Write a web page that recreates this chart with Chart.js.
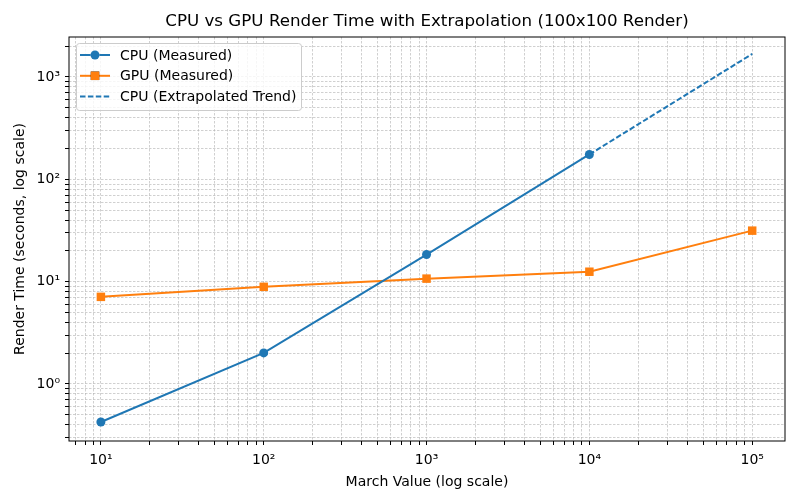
<!DOCTYPE html>
<html>
<head>
<meta charset="utf-8">
<script src="https://cdn.jsdelivr.net/npm/chart.js@4.4.0/dist/chart.umd.min.js"></script>
<style>
  body { margin: 0; background: #fff; }
</style>
</head>
<body>
<canvas id="graficoRender" width="800" height="500"></canvas>
<script>
// dados
var marchCpu = [10, 100, 1000, 10000];
var cpuMedido = [0.425, 2.01, 18.4, 175];
var marchGpu = [10, 100, 1000, 10000, 100000];
var gpuMedido = [7.1, 8.9, 10.7, 12.5, 31.5];
var marchTrend = [10000, 100000];
var cpuTrend = [175, 1680];
var expoentes = ['⁰', '¹', '²', '³', '⁴', '⁵'];
var titulo = 'CPU vs GPU Render Time with Extrapolation (100x100 Render)';

var azul = '#1f77b4';
var laranja = '#ff7f0e';

function pares(xs, ys) {
    var out = [];
    for (var i = 0; i < xs.length; i++) out.push({ x: xs[i], y: ys[i] });
    return out;
}

// ticks 1..9 x 10^n, igual ao matplotlib
function ticksLog(scale) {
    var lista = [];
    var eMin = Math.floor(Math.log10(scale.min));
    var eMax = Math.ceil(Math.log10(scale.max));
    for (var e = eMin; e <= eMax; e++) {
        for (var k = 1; k <= 9; k++) {
            var v = k * Math.pow(10, e);
            if (v >= scale.min && v <= scale.max) lista.push({ value: v, major: k == 1 });
        }
    }
    scale.ticks = lista;
}

function rotuloLog(value) {
    var e = Math.log10(value);
    if (Math.abs(e - Math.round(e)) < 1e-9) return '10' + expoentes[Math.round(e)];
    return '';
}

var grade = {
    color: 'rgba(176,176,176,0.85)',
    lineWidth: 0.7,
    tickColor: '#000',
    tickWidth: 1,
    tickLength: 4,
    tickBorderDash: []
};
// no v4 o tracejado da grade fica em border.dash
var borda = { display: false, dash: [2.5, 1.5] };

// moldura em volta da area do grafico + titulo centrado nela
var moldura = {
    id: 'moldura',
    afterDraw: function (chart) {
        var a = chart.chartArea, ctx = chart.ctx;
        ctx.save();
        ctx.strokeStyle = '#000';
        ctx.lineWidth = 1;
        ctx.strokeRect(a.left, a.top, a.right - a.left, a.bottom - a.top);
        ctx.fillStyle = '#000';
        ctx.font = '16.7px "DejaVu Sans"';
        ctx.textAlign = 'center';
        ctx.textBaseline = 'middle';
        ctx.fillText(titulo, (a.left + a.right) / 2, 22);
        ctx.restore();
    }
};

// legenda dentro do grafico (canto superior esquerdo)
var legendaInterna = {
    id: 'legendaInterna',
    afterDraw: function (chart) {
        var a = chart.chartArea, ctx = chart.ctx;
        var x0 = a.left + 7, y0 = a.top + 6;
        var w = 225, h = 67;
        ctx.save();
        ctx.fillStyle = 'rgba(255,255,255,0.8)';
        ctx.strokeStyle = '#cccccc';
        ctx.lineWidth = 1;
        ctx.beginPath();
        ctx.roundRect(x0 + 0.5, y0 + 0.5, w, h, 3);
        ctx.fill();
        ctx.stroke();
        ctx.font = '14px "DejaVu Sans"';
        ctx.textBaseline = 'middle';
        chart.data.datasets.forEach(function (ds, i) {
            var y = y0 + 12 + i * 20.8;
            ctx.strokeStyle = ds.borderColor;
            ctx.lineWidth = 2;
            ctx.setLineDash(ds.borderDash || []);
            ctx.beginPath();
            ctx.moveTo(x0 + 4, y);
            ctx.lineTo(x0 + 34, y);
            ctx.stroke();
            ctx.setLineDash([]);
            if (ds.pointRadius > 0) {
                Chart.helpers.drawPoint(ctx, {
                    pointStyle: ds.pointStyle, radius: ds.pointRadius, rotation: 0, borderWidth: 0
                }, x0 + 19, y);
                ctx.fillStyle = ds.backgroundColor;
                ctx.fill();
            }
            ctx.fillStyle = '#000';
            ctx.fillText(ds.label, x0 + 44, y + 1);
        });
        ctx.restore();
    }
};

var config = {
    type: 'line',
    data: {
        datasets: [
            {
                label: 'CPU (Measured)',
                data: pares(marchCpu, cpuMedido),
                borderColor: azul,
                backgroundColor: azul,
                borderWidth: 2,
                pointStyle: 'circle',
                pointRadius: 4.5,
                pointBorderWidth: 0
            },
            {
                label: 'GPU (Measured)',
                data: pares(marchGpu, gpuMedido),
                borderColor: laranja,
                backgroundColor: laranja,
                borderWidth: 2,
                pointStyle: 'rect',
                pointRadius: 6,
                pointBorderWidth: 0
            },
            {
                label: 'CPU (Extrapolated Trend)',
                data: pares(marchTrend, cpuTrend),
                borderColor: azul,
                backgroundColor: azul,
                borderWidth: 2,
                borderDash: [5.5, 2.4],
                pointRadius: 0
            }
        ]
    },
    options: {
        responsive: false,
        animation: false,
        devicePixelRatio: 1,
        layout: { padding: { left: 0, right: 15, top: 37, bottom: 0 } },
        plugins: {
            legend: { display: false },
            tooltip: { enabled: false },
            title: { display: false }
        },
        scales: {
            x: {
                type: 'logarithmic',
                min: 6.37,
                max: 159000,
                grid: grade,
                border: borda,
                afterBuildTicks: ticksLog,
                afterFit: function (s) { s.height = 59; },
                ticks: { autoSkip: false, maxRotation: 0, color: '#000', padding: 7, font: { size: 14 }, callback: rotuloLog },
                title: { display: true, text: 'March Value (log scale)', color: '#000', font: { size: 14 }, padding: { top: 0, bottom: 9 } }
            },
            y: {
                type: 'logarithmic',
                min: 0.277,
                max: 2460,
                grid: grade,
                border: borda,
                afterBuildTicks: ticksLog,
                afterFit: function (s) { s.width = 69; },
                ticks: { autoSkip: false, color: '#000', padding: 5, font: { size: 14 }, callback: rotuloLog },
                title: { display: true, text: 'Render Time (seconds, log scale)', color: '#000', font: { size: 14 }, padding: { top: 12, bottom: 0 } }
            }
        }
    },
    plugins: [moldura, legendaInterna]
};

Chart.defaults.font.family = '"DejaVu Sans"';
var graficoRender = new Chart(document.getElementById('graficoRender'), config);
</script>
</body>
</html>
